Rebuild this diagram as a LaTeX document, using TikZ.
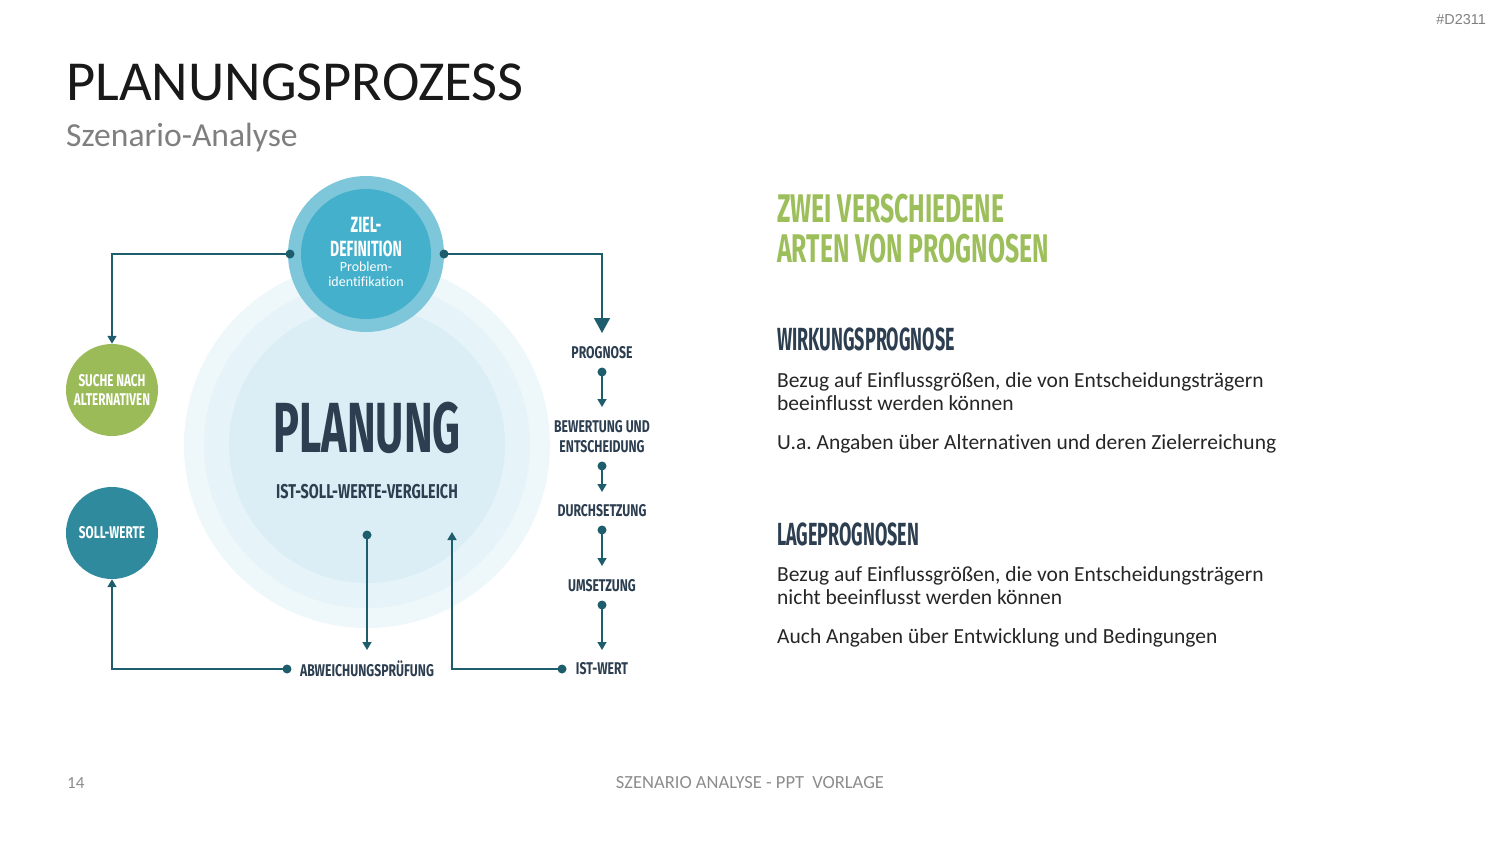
\documentclass[tikz,border=0pt]{standalone}
\usepackage{fontspec}
\setmainfont[Ligatures=NoCommon]{Carlito}
\newfontfamily\bebas[FakeStretch=0.62]{Fira Sans}
\newfontfamily\bebasS[FakeStretch=0.72]{Fira Sans}
\newfontfamily\bebasW[FakeStretch=0.69]{Fira Sans}
\newfontfamily\bebasZ[FakeStretch=0.64]{Fira Sans}
\newfontfamily\bebasH[FakeStretch=0.56]{Fira Sans}
\newfontfamily\bebasP[FakeStretch=0.61]{Fira Sans}
\newfontfamily\arialf{Liberation Sans}
\usetikzlibrary{arrows.meta}
\definecolor{navy}{HTML}{2C3E50}
\definecolor{teal}{HTML}{1E5D6C}
\definecolor{greenc}{HTML}{9BBB59}
\definecolor{greenh}{HTML}{9DBF5B}
\definecolor{sollc}{HTML}{2E8A9C}
\definecolor{ringc}{HTML}{7EC7DA}
\definecolor{zielc}{HTML}{44B0CB}
\definecolor{bg1}{HTML}{EEF7FA}
\definecolor{bg2}{HTML}{E6F3F8}
\definecolor{bg3}{HTML}{DCEEF5}
\definecolor{grayt}{HTML}{7F7F7F}
\definecolor{grayf}{HTML}{8C8C8C}
\begin{document}
\begin{tikzpicture}[x=1pt,y=-1pt,
  lbl/.style={font=\bebasS\bfseries\fontsize{17}{20}\selectfont, text=navy, inner sep=0pt, align=center},
  wlbl/.style={font=\bebasW\bfseries\fontsize{17}{19}\selectfont, text=white, inner sep=0pt, align=center},
  dot/.style={circle, fill=teal, minimum size=9pt, inner sep=0pt},
  conn/.style={draw=teal, line width=1.5pt, -{Triangle[width=9pt,length=8pt]}},
  bigconn/.style={draw=teal, line width=1.5pt, -{Triangle[width=16pt,length=15pt]}},
  body/.style={font=\fontsize{21.5}{24}\selectfont, text=black!85, inner sep=0pt, anchor=base west},
  head/.style={font=\bebasH\bfseries\fontsize{32}{32}\selectfont, text=navy, inner sep=0pt, anchor=base west},
  ghead/.style={font=\bebas\bfseries\fontsize{40}{40}\selectfont, text=greenh, inner sep=0pt, anchor=base west},
  bubble/.style={circle, inner sep=0pt, minimum size=92pt}
]
\useasboundingbox (0,0) rectangle (1500,844);

% header
\node[font=\arialf\fontsize{14.4}{14.4}\selectfont, text=grayt, anchor=base east, inner sep=0pt] (code) at (1486,24) {\#D2311};
\node[font=\fontsize{56.5}{56.5}\selectfont, text=black!90, anchor=base west, inner sep=0pt] (title) at (66,100) {PLANUNGSPROZESS};
\node[font=\fontsize{33.6}{33.6}\selectfont, text=grayt, anchor=base west, inner sep=0pt] (sub) at (66,146) {Szenario-Analyse};

% big background circles
\fill[bg1] (367,445) circle (183);
\fill[bg2] (367,445) circle (163);
\fill[bg3] (367,445) circle (138);
\node[font=\bebasP\bfseries\fontsize{71}{71}\selectfont, text=navy, inner sep=0pt, anchor=base] (plan) at (367,452) {PLANUNG};
\node[font=\bebasS\bfseries\fontsize{20}{20}\selectfont, text=navy, inner sep=0pt, anchor=base] (cmp) at (367,498) {IST-SOLL-WERTE-VERGLEICH};

% top circle
\node[circle, fill=ringc, minimum size=156pt, inner sep=0pt] (zring) at (366,254) {};
\node[circle, fill=zielc, minimum size=130pt, inner sep=0pt] (ziel) at (366,254) {};
\node[font=\bebasZ\bfseries\fontsize{22}{23}\selectfont, text=white, inner sep=0pt, anchor=base] (zt) at (366,232) {ZIEL-};
\node[font=\bebasZ\bfseries\fontsize{22}{23}\selectfont, text=white, inner sep=0pt, anchor=base] (zt2) at (366,256) {DEFINITION};
\node[font=\fontsize{14}{15}\selectfont, text=white, inner sep=0pt, anchor=base] (zs1) at (366,271) {Problem-};
\node[font=\fontsize{14}{15}\selectfont, text=white, inner sep=0pt, anchor=base] (zs2) at (366,286) {identifikation};
\node[dot] (zl) at (290,254) {};
\node[dot] (zr) at (444,254) {};

% left circles
\node[bubble, fill=greenc] (suche) at (112,390) {};
\node[wlbl] at (suche) {SUCHE NACH\\ALTERNATIVEN};
\node[bubble, fill=sollc] (soll) at (112,533) {};
\node[wlbl] at (soll) {SOLL-WERTE};

% right column
\node[lbl] (prog) at (602,353) {PROGNOSE};
\node[lbl] (bew) at (602,437) {BEWERTUNG UND\\ENTSCHEIDUNG};
\node[lbl] (durch) at (602,511) {DURCHSETZUNG};
\node[lbl] (ums) at (602,586) {UMSETZUNG};
\node[lbl] (ist) at (602,669) {IST-WERT};
\node[lbl] (abw) at (367,669) {ABWEICHUNGSPRÜFUNG};

\node[dot] (d1) at (602,372) {};
\node[dot] (d2) at (602,466) {};
\node[dot] (d3) at (602,530) {};
\node[dot] (d4) at (602,605) {};
\node[dot] (dist) at (562,669) {};
\node[dot] (dabw) at (287,669) {};
\node[dot] (dcmp) at (367,535) {};

\coordinate (a0) at (602,333);
\coordinate (a1) at (602,407);
\coordinate (a2) at (602,492);
\coordinate (a3) at (602,566);
\coordinate (a4) at (602,650);
\coordinate (aabw) at (367,650);
\coordinate (acmp) at (452,532);

\draw[conn] (zl.center) -| (suche.north);
\draw[bigconn] (zr.center) -| (a0);
\draw[conn] (d1.center) -- (a1);
\draw[conn] (d2.center) -- (a2);
\draw[conn] (d3.center) -- (a3);
\draw[conn] (d4.center) -- (a4);
\draw[conn] (dcmp.center) -- (aabw);
\draw[conn] (dabw.center) -| (soll.south);
\draw[conn] (dist.center) -| (acmp);

% right text
\node[ghead] (g1) at (777,222) {ZWEI VERSCHIEDENE};
\node[ghead] (g2) at (777,262) {ARTEN VON PROGNOSEN};
\node[head] (h1) at (777,350) {WIRKUNGSPROGNOSE};
\node[body] (b1) at (777,387) {Bezug auf Einflussgrößen, die von Entscheidungsträgern};
\node[body] (b2) at (777,410) {beeinflusst werden können};
\node[body] (b3) at (777,449) {U.a.\ Angaben über Alternativen und deren Zielerreichung};
\node[head] (h2) at (777,545) {LAGEPROGNOSEN};
\node[body] (b4) at (777,581) {Bezug auf Einflussgrößen, die von Entscheidungsträgern};
\node[body] (b5) at (777,604) {nicht beeinflusst werden können};
\node[body] (b6) at (777,643) {Auch Angaben über Entwicklung und Bedingungen};

% footer
\node[font=\fontsize{17}{17}\selectfont, text=grayf, anchor=base west, inner sep=0pt] (pg) at (67,788) {14};
\node[font=\fontsize{18.5}{18.5}\selectfont, text=grayf, anchor=base, inner sep=0pt] (ft) at (750,788) {SZENARIO ANALYSE - PPT\ \ VORLAGE};
\end{tikzpicture}
\end{document}
